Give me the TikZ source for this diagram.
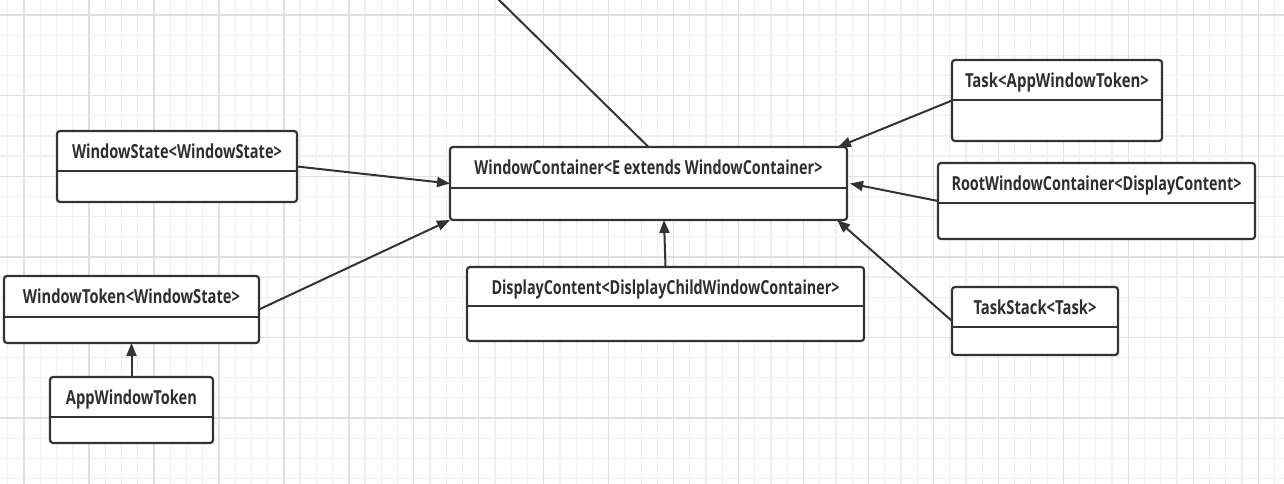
\documentclass[tikz,border=0pt]{standalone}
\usepackage{fontspec}
\setmainfont{Open Sans}
\usepackage{graphicx}
\usetikzlibrary{arrows.meta,calc}
\definecolor{ink}{HTML}{333333}
\definecolor{txt}{HTML}{2E2E2E}
\definecolor{gminor}{HTML}{EFEFEF}
\definecolor{gmajor}{HTML}{E0E0E0}
\newcommand\lb[2]{\resizebox{#1pt}{13.8pt}{\raisebox{0pt}[\fontcharht\font`W][0pt]{\bfseries #2}}}
\tikzset{
  cls/.style={draw=ink, fill=white, line width=2.2pt, rounded corners=3pt, inner sep=0pt, outer sep=0pt},
  divl/.style={draw=ink, line width=2.2pt},
  lbl/.style={text=txt, font=\bfseries, inner sep=0pt},
  conn/.style={draw=ink, line width=2pt, -{Triangle[length=13pt,width=10pt]}},
  plain/.style={draw=ink, line width=2pt},
  gmin/.style={draw=gminor, line width=1.2pt},
  gmaj/.style={draw=gmajor, line width=1.4pt}
}
\newcommand\umlbox[8]{%
  \pgfmathsetmacro\bw{#4-#2}\pgfmathsetmacro\bh{#5-#3}\pgfmathsetmacro\dv{#6-#3}%
  \node[cls, minimum width=\bw pt, minimum height=\bh pt, anchor=north west] (#1) at (#2,#3) {};
  \draw[divl] ([yshift=-\dv pt]#1.north west) -- ([yshift=-\dv pt]#1.north east);
  \node[lbl, anchor=base] (#1-t) at ([yshift=-27.5pt]#1.north) {\lb{#7}{#8}};
}
\begin{document}
\begin{tikzpicture}[x=1pt,y=-1pt]
\fill[white] (0,0) rectangle (1284,484);
\useasboundingbox (0,0) rectangle (1284,484);
\begin{scope}
\clip (0,0) rectangle (1284,484);
\foreach \k in {0,...,79}{\pgfmathsetmacro\gx{7.76+16.24*\k}\draw[gmin] (\gx,0) -- (\gx,484);}
\foreach \k in {-1,...,23}{\pgfmathsetmacro\gy{15+20.15*\k}\draw[gmin] (0,\gy) -- (1284,\gy);}
\foreach \k in {0,...,19}{\pgfmathsetmacro\gx{24+64.96*\k}\draw[gmaj] (\gx,0) -- (\gx,484);}
\foreach \k in {0,...,5}{\pgfmathsetmacro\gy{15+80.6*\k}\draw[gmaj] (0,\gy) -- (1284,\gy);}
\end{scope}

\umlbox{WS}{57}{131}{297}{202}{171}{210}{WindowState<WindowState>}
\umlbox{WT}{4}{276}{259}{343}{317}{217}{WindowToken<WindowState>}
\umlbox{AWT}{50}{377}{213}{443}{417}{131}{AppWindowToken}
\umlbox{WC}{450}{147}{847}{220}{188}{348}{WindowContainer<E extends WindowContainer>}
\umlbox{DC}{467}{267}{864}{341}{306}{348}{DisplayContent<DislplayChildWindowContainer>}
\umlbox{T}{952}{60}{1162}{141}{100}{184}{Task<AppWindowToken>}
\umlbox{RWC}{938}{163}{1255}{239}{203}{290}{RootWindowContainer<DisplayContent>}
\umlbox{TS}{952}{287}{1118}{355}{327}{123}{TaskStack<Task>}

\coordinate (topend) at (497,-2);
\draw[plain] (WC.north) -- (topend);
\draw[conn] (WS.east) -- (WC.west);
\draw[conn] (WT.east) -- (WC.south west);
\draw[conn] (AWT.north) -- (WT.south);
\draw[conn] (DC.north) -- ($(WC.south west)!0.539!(WC.south east)$);
\draw[conn] (T.west) -- ($(WC.north west)!0.977!(WC.north east)$);
\draw[conn] (RWC.west) -- ([xshift=3pt]WC.east);
\draw[conn] (TS.west) -- ($(WC.south west)!0.975!(WC.south east)$);
\end{tikzpicture}
\end{document}
